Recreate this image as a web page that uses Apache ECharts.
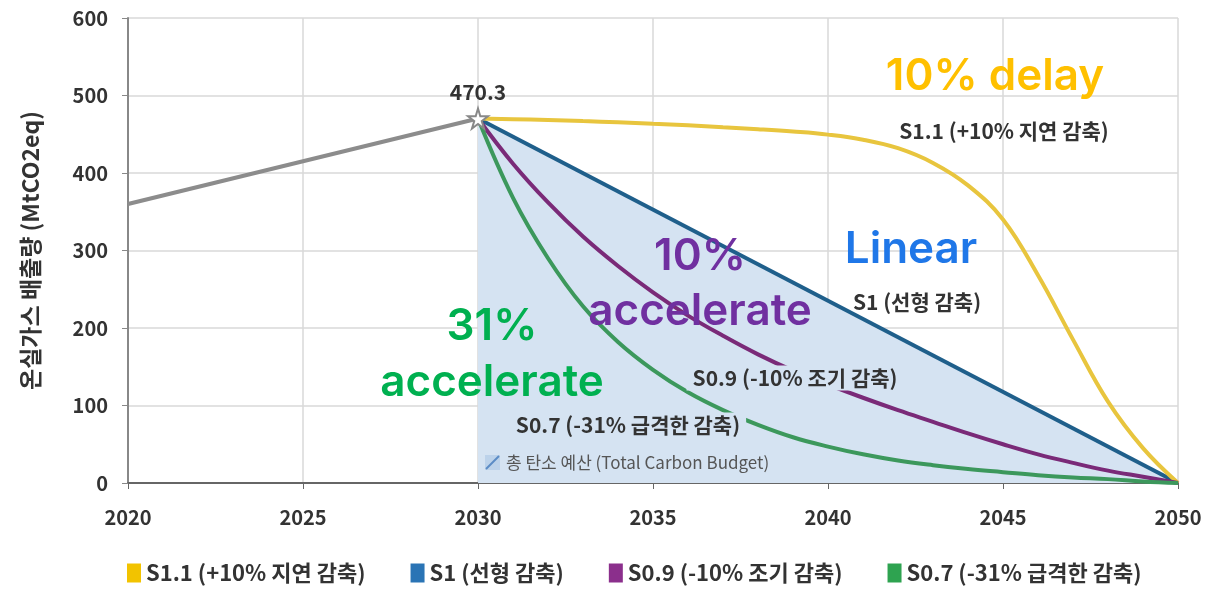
<!DOCTYPE html>
<html>
<head>
<meta charset="utf-8">
<script src="https://cdn.jsdelivr.net/npm/echarts@6/dist/echarts.min.js"></script>
<style>
  html, body { margin: 0; padding: 0; background: #fff; }
  #chart { width: 1228px; height: 589px; }
</style>
</head>
<body>
<div id="chart"></div>
<script>
// history 2020 -> 2030
const historyYears = [2020, 2030]
const historyValues = [360, 470.3]

// scenarios 2030 -> 2050
const years = [2030, 2031, 2032, 2033, 2034, 2035, 2036, 2037, 2038, 2039, 2040,
  2041, 2042, 2043, 2044, 2045, 2046, 2047, 2048, 2049, 2050]
const s11Values = [470.3, 469.5, 468.5, 467, 465.5, 463.5, 461.5, 459, 456.5, 453.5, 449.5,
  443, 432, 413, 384, 340, 268, 185, 105, 45, 0]
const s1Years = [2030, 2050]
const s1Values = [470.3, 0]
const s09Values = [470.3, 412, 362, 318, 280, 246, 216, 190, 166, 145, 127,
  110, 94, 79, 64, 50, 37, 26, 16, 8, 0]
const s07Values = [470.3, 368, 290, 228, 182, 146, 117, 94, 75, 59, 47,
  37, 29, 23, 18, 14, 10, 7, 5, 2, 0]

const xTicks = [2020, 2025, 2030, 2035, 2040, 2045, 2050]

const names = ['S1.1 (+10% 지연 감축)', 'S1 (선형 감축)', 'S0.9 (-10% 조기 감축)', 'S0.7 (-31% 급격한 감축)']

const zip = (xs, ys) => xs.map((x, i) => [x, ys[i]])

const font = "'Noto Sans CJK KR', 'Noto Sans', sans-serif"
const starPath = 'path://M50,0 L61,35 L98,35 L68,57 L79,91 L50,70 L21,91 L32,57 L2,35 L39,35 Z'
const areaColor = '#d5e3f2'

// annotation text helper
const note = (x, y, text, fill, font, extra) => ({
  type: 'text', x, y, z: 100,
  style: Object.assign({ text, fill, font, align: 'center', verticalAlign: 'middle' }, extra || {})
})
const big = '600 44px Inter'
const small = "bold 21px 'Noto Sans CJK KR'"

const chart = echarts.init(document.getElementById('chart'))

const option = {
  animation: false,
  textStyle: { fontFamily: font },
  grid: { left: 128, right: 50, top: 18, bottom: 106 },
  legend: {
    data: names,
    left: 122,
    bottom: 0,
    icon: 'rect',
    itemWidth: 14,
    itemHeight: 19,
    itemGap: 45,
    textStyle: { color: '#333', fontSize: 22, fontWeight: 'bold', fontFamily: font }
  },
  xAxis: {
    type: 'value',
    min: xTicks[0],
    max: xTicks[xTicks.length - 1],
    interval: 5,
    axisLine: { lineStyle: { color: '#666', width: 2 } },
    axisTick: { show: true, length: 6, lineStyle: { color: '#666' } },
    axisLabel: {
      color: '#333', fontSize: 20, fontWeight: 'bold', margin: 24,
      formatter: v => String(v)
    },
    splitLine: { show: true, lineStyle: { color: '#d9d9d9', width: 1.5 } }
  },
  yAxis: {
    type: 'value',
    min: 0,
    max: 600,
    interval: 100,
    name: '온실가스 배출량 (MtCO2eq)',
    nameLocation: 'middle',
    nameRotate: 90,
    nameGap: 86,
    nameTextStyle: { color: '#333', fontSize: 23, fontWeight: 'bold' },
    axisLine: { show: true, lineStyle: { color: '#888', width: 2 } },
    axisTick: { show: true, length: 6, lineStyle: { color: '#888' } },
    axisLabel: { color: '#333', fontSize: 20, fontWeight: 'bold', margin: 20 },
    splitLine: { show: true, lineStyle: { color: '#d9d9d9', width: 1.5 } }
  },
  series: [
    {
      name: names[1],
      type: 'line',
      data: zip(s1Years, s1Values),
      showSymbol: false,
      itemStyle: { color: '#2a74b5' },
      lineStyle: { color: '#1f5f8b', width: 4 },
      areaStyle: { color: areaColor, opacity: 1 },
      z: 2
    },
    {
      name: names[0],
      type: 'line',
      data: zip(years, s11Values),
      smooth: 0.4,
      showSymbol: false,
      itemStyle: { color: '#f2c300' },
      lineStyle: { color: '#e8c53e', width: 4 },
      z: 3
    },
    {
      name: names[2],
      type: 'line',
      data: zip(years, s09Values),
      smooth: 0.4,
      showSymbol: false,
      itemStyle: { color: '#8b2f8c' },
      lineStyle: { color: '#7a2a78', width: 4 },
      z: 3
    },
    {
      name: names[3],
      type: 'line',
      data: zip(years, s07Values),
      smooth: 0.4,
      showSymbol: false,
      itemStyle: { color: '#2ea350' },
      lineStyle: { color: '#3c985c', width: 4 },
      z: 3
    },
    {
      name: 'history',
      type: 'line',
      data: zip(historyYears, historyValues).map((d, i) => i === 1 ? {
        value: d,
        symbol: starPath,
        symbolSize: 20,
        itemStyle: { color: '#fff', borderColor: '#888', borderWidth: 2 },
        label: {
          show: true, position: 'top', distance: 5,
          formatter: p => p.value[1].toFixed(1),
          color: '#333', fontSize: 21, fontWeight: 'bold'
        }
      } : { value: d, symbol: 'none' }),
      lineStyle: { color: '#8c8c8c', width: 4 },
      z: 5
    }
  ],
  graphic: [
    note(995, 77, '10% delay', '#ffc000', big),
    note(1004, 131, names[0], '#333', small),
    note(911, 250, 'Linear', '#1f77e8', big),
    note(917, 302, names[1], '#333', small),
    note(700, 257, '10%', '#7030a0', big),
    note(700, 312, 'accelerate', '#7030a0', big),
    note(492, 327, '31%', '#00b050', big),
    note(492, 383, 'accelerate', '#00b050', big),
    note(795, 378, names[2], '#333', small, { backgroundColor: areaColor, padding: [2, 6] }),
    note(628, 425, names[3], '#333', small, { backgroundColor: areaColor, padding: [2, 6] }),
    { type: 'rect', z: 100, shape: { x: 485, y: 455, width: 15, height: 15 }, style: { fill: '#bcd2ea' } },
    { type: 'line', z: 100, shape: { x1: 486, y1: 469, x2: 499, y2: 456 }, style: { stroke: '#5b8cc6', lineWidth: 2 } },
    {
      type: 'text', x: 506, y: 463, z: 100,
      style: { text: '총 탄소 예산 (Total Carbon Budget)', fill: '#555', font: "17px 'Noto Sans CJK KR'", align: 'left', verticalAlign: 'middle' }
    }
  ]
}

chart.setOption(option)
</script>
</body>
</html>
